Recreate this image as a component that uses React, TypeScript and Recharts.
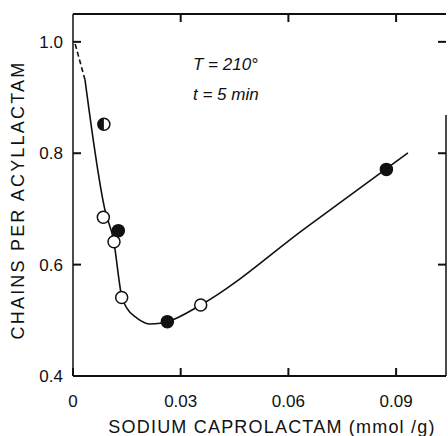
import { ComposedChart, Line, Scatter, XAxis, YAxis } from 'recharts';

// axes and frame
const xTicks = [0, 0.03, 0.06, 0.09];
const xTopTicks = [0.03, 0.06, 0.09];
const yTicks = [0.4, 0.6, 0.8, 1.0];
const yRightTicks = [0.6, 0.8, 1.0];
const X_MAX = 0.1039;
const Y_MIN = 0.4;
const Y_MAX = 1.05;

// extrapolated start of the curve (dashed)
const dashX = [0.0006, 0.00334];
const dashY = [0.996, 0.932];

// fitted curve (solid)
const curveX = [0.00334, 0.0089, 0.0113, 0.0136, 0.015, 0.0178, 0.0215, 0.0243, 0.0263, 0.0356, 0.065, 0.0933];
const curveY = [0.932, 0.698, 0.644, 0.542, 0.522, 0.504, 0.4934, 0.4947, 0.4976, 0.5276, 0.667, 0.8006];

// measured points
const openX = [0.00845, 0.01142, 0.01356, 0.03557];
const openY = [0.685, 0.641, 0.541, 0.5276];
const filledX = [0.01263, 0.02628, 0.0873];
const filledY = [0.661, 0.4976, 0.771];
const halfX = [0.0086];
const halfY = [0.852];

const INK = '#111';
const FONT = '"Liberation Sans", Arial, sans-serif';
const TICK = 8;

const zip = (xs: number[], ys: number[]) => xs.map((x, i) => ({ x, y: ys[i] }));

const OpenDot = (p: any) => (
  <circle cx={p.cx} cy={p.cy} r={6} fill="#fff" stroke={INK} strokeWidth={1.5} />
);
const FilledDot = (p: any) => (
  <circle cx={p.cx} cy={p.cy} r={6} fill={INK} stroke={INK} strokeWidth={1.5} />
);
const HalfDot = (p: any) => {
  const r = 6;
  return (
    <g>
      <circle cx={p.cx} cy={p.cy} r={r} fill="#fff" stroke={INK} strokeWidth={1.5} />
      <path d={`M${p.cx},${p.cy - r} A${r},${r} 0 0 0 ${p.cx},${p.cy + r} Z`} fill={INK} />
    </g>
  );
};

const fmtX = (v: number) => (v === 0 ? '0' : v.toFixed(2));

// ticks point into the plot, labels sit outside
const BottomTick = (p: any) => (
  <g>
    <line x1={p.x} x2={p.x} y1={p.y} y2={p.y - TICK} stroke={INK} strokeWidth={2} />
    <text x={p.x} y={p.y + 31} textAnchor="middle" fontFamily={FONT} fontSize={17} fill={INK}>
      {fmtX(p.payload.value)}
    </text>
  </g>
);
const TopTick = (p: any) => (
  <line x1={p.x} x2={p.x} y1={p.y} y2={p.y + TICK} stroke={INK} strokeWidth={2} />
);
const LeftTick = (p: any) => (
  <g>
    <line x1={p.x} x2={p.x + TICK} y1={p.y} y2={p.y} stroke={INK} strokeWidth={2} />
    <text x={p.x - 10} y={p.y + 6} textAnchor="end" fontFamily={FONT} fontSize={17} fill={INK}>
      {p.payload.value.toFixed(1)}
    </text>
  </g>
);
const RightTick = (p: any) => (
  <line x1={p.x} x2={p.x - TICK} y1={p.y} y2={p.y} stroke={INK} strokeWidth={2} />
);

export default function App() {
  return (
    <div style={{ position: 'absolute', left: 0, top: 0, width: 448, height: 436, background: '#fff' }}>
      <ComposedChart width={448} height={436} margin={{ top: 0, right: 0, bottom: 0, left: 0 }}>
        <XAxis
          xAxisId="b"
          dataKey="x"
          type="number"
          domain={[0, X_MAX]}
          ticks={xTicks}
          height={60}
          tickSize={0}
          tickMargin={0}
          tickLine={false}
          axisLine={{ stroke: INK, strokeWidth: 2 }}
          tick={BottomTick}
          interval={0}
        />
        <XAxis
          xAxisId="t"
          orientation="top"
          dataKey="x"
          type="number"
          domain={[0, X_MAX]}
          ticks={xTopTicks}
          height={14}
          tickSize={0}
          tickMargin={0}
          tickLine={false}
          axisLine={{ stroke: INK, strokeWidth: 2 }}
          tick={TopTick}
          interval={0}
        />
        <YAxis
          yAxisId="l"
          dataKey="y"
          type="number"
          domain={[Y_MIN, Y_MAX]}
          ticks={yTicks}
          width={73}
          tickSize={0}
          tickMargin={0}
          tickLine={false}
          axisLine={{ stroke: INK, strokeWidth: 1.5 }}
          tick={LeftTick}
          interval={0}
        />
        {/* right frame is only partly printed: the gap at its top is a dash offset */}
        <YAxis
          yAxisId="r"
          orientation="right"
          dataKey="y"
          type="number"
          domain={[Y_MIN, Y_MAX]}
          ticks={yRightTicks}
          width={2}
          tickSize={0}
          tickMargin={0}
          tickLine={false}
          axisLine={{ stroke: INK, strokeWidth: 1.5, strokeDasharray: '0 101 400' }}
          tick={RightTick}
          interval={0}
        />
        {/* top/right axes share the same domains; give them a series so their ticks render */}
        <Line
          xAxisId="t"
          yAxisId="r"
          data={zip(dashX, dashY)}
          dataKey="y"
          type="linear"
          stroke={INK}
          strokeWidth={1.6}
          strokeDasharray="5 3"
          dot={false}
          activeDot={false}
          isAnimationActive={false}
        />
        <Line
          xAxisId="b"
          yAxisId="l"
          data={zip(curveX, curveY)}
          dataKey="y"
          type="monotone"
          stroke={INK}
          strokeWidth={1.6}
          dot={false}
          activeDot={false}
          isAnimationActive={false}
        />
        <Scatter xAxisId="b" yAxisId="l" data={zip(filledX, filledY)} dataKey="y" shape={FilledDot} isAnimationActive={false} />
        <Scatter xAxisId="b" yAxisId="l" data={zip(openX, openY)} dataKey="y" shape={OpenDot} isAnimationActive={false} />
        <Scatter xAxisId="t" yAxisId="r" data={zip(halfX, halfY)} dataKey="y" shape={HalfDot} isAnimationActive={false} />
        <text x={193} y={70} fontFamily={FONT} fontSize={17} fontStyle="italic" fill={INK}>T = 210°</text>
        <text x={193} y={100} fontFamily={FONT} fontSize={17} fontStyle="italic" fill={INK}>t = 5 min</text>
        <text
          x={18}
          y={200}
          transform="rotate(-90 18 200)"
          textAnchor="middle"
          dominantBaseline="central"
          fontFamily={FONT}
          fontSize={18}
          letterSpacing={2.2}
          fill={INK}
        >
          CHAINS PER ACYLLACTAM
        </text>
        <text
          x={272}
          y={433}
          textAnchor="middle"
          fontFamily={FONT}
          fontSize={18}
          letterSpacing={1.2}
          fill={INK}
        >
          SODIUM CAPROLACTAM (mmol /g)
        </text>
      </ComposedChart>
    </div>
  );
}
